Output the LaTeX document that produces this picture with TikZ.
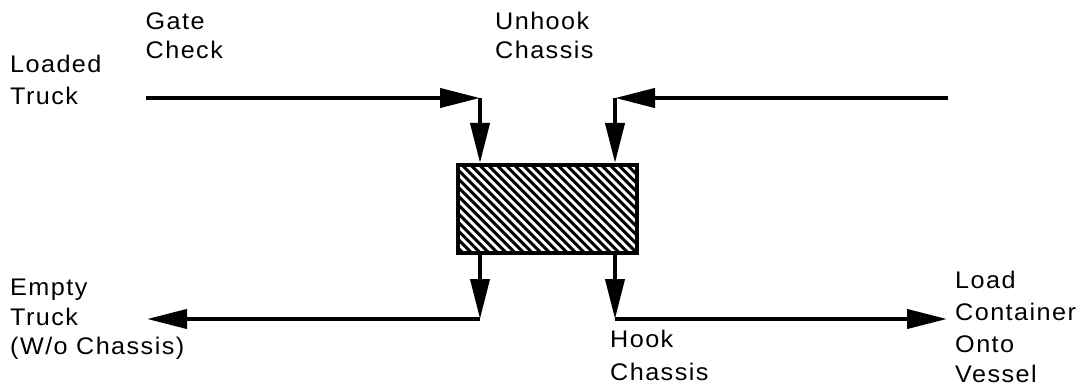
\documentclass[tikz,border=0pt]{standalone}
\usepackage{fontspec}
\setmainfont{Liberation Sans}[FakeStretch=1.05,LetterSpace=6]
\usetikzlibrary{arrows.meta}
\begin{document}
\begin{tikzpicture}[x=1pt,y=-1pt,
  flow/.style={line width=4pt,-{Triangle[length=40pt,width=19pt]}},
  lbl/.style={anchor=base west,inner sep=0pt,font=\fontsize{24}{28}\selectfont},
  stationbox/.style={draw,line width=4pt,minimum width=179pt,minimum height=88pt,inner sep=0pt}]
\useasboundingbox (0,0) rectangle (1086,390);

% central work station with diagonal hatching
\node[stationbox] (box) at (547.5,209) {};
\begin{scope}
  \clip ([shift={(2pt,2pt)}]box.south west) rectangle ([shift={(-2pt,-2pt)}]box.north east);
  \foreach \i in {-14,...,24}
    \draw[line width=3pt] (457+\i*8.7,160) -- ++(100,100);
\end{scope}
\node[stationbox] at (box) {};

% corner points of the flow lines
\coordinate (inL)  at (146,98);
\coordinate (inR)  at (948,98);
\coordinate (cTL)  at (480,98);
\coordinate (cTR)  at (615,98);
\coordinate (cBL)  at (480,319);
\coordinate (cBR)  at (615,319);
\coordinate (outL) at (147,319);
\coordinate (outR) at (947,319);

% incoming flows
\draw[flow] (inL) -- (cTL);
\draw[flow] (cTL) -- (cTL |- box.north);
\draw[flow] (inR) -- (cTR);
\draw[flow] (cTR) -- (cTR |- box.north);

% outgoing flows
\draw[flow] (cBL |- box.south) -- (cBL);
\draw[flow] (cBL) -- (outL);
\draw[flow] (cBR |- box.south) -- (cBR);
\draw[flow] (cBR) -- (outR);

% labels
\node[lbl] (loaded1) at (10,73)   {Loaded};
\node[lbl] (loaded2) at (10,105)  {Truck};
\node[lbl] (gate1)   at (145.5,30) {Gate};
\node[lbl] (gate2)   at (145.5,59) {Check};
\node[lbl] (unhook1) at (495,30)  {Unhook};
\node[lbl] (unhook2) at (495,59)  {Chassis};
\node[lbl] (empty1)  at (10,295)  {Empty};
\node[lbl] (empty2)  at (10,325)  {Truck};
\node[lbl] (empty3)  at (10,354)  {(W/o Chassis)};
\node[lbl] (hook1)   at (610,347) {Hook};
\node[lbl] (hook2)   at (610,380) {Chassis};
\node[lbl] (load1)   at (955,288) {Load};
\node[lbl] (load2)   at (955,320) {Container};
\node[lbl] (load3)   at (955,352) {Onto};
\node[lbl] (load4)   at (955,382) {Vessel};
\end{tikzpicture}
\end{document}
